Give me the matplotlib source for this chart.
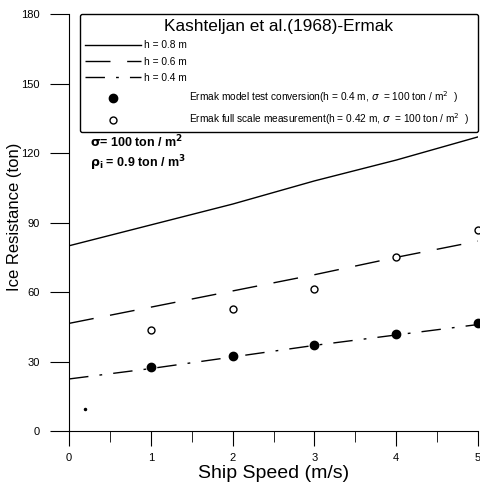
import matplotlib
matplotlib.use("Agg")
import matplotlib.pyplot as plt
from matplotlib.ticker import MultipleLocator

plt.rcParams['font.family'] = ['Liberation Sans', 'DejaVu Sans']

speed = [0, 1, 2, 3, 4, 5]
h08 = [80, 89, 98, 108, 117, 127]
h06 = [46.5, 53.5, 60.5, 67.5, 75, 82]
h04 = [22.5, 27, 32, 37, 41.5, 46]

model_x = [1, 2, 3, 4, 5]
model_y = [27.5, 32.5, 37, 42, 46.5]
full_x = [1, 2, 3, 4, 5]
full_y = [43.5, 52.5, 61.5, 75, 87]
small_x = [0.2]
small_y = [9.7]

fig = plt.figure(figsize=(4.8, 4.86), dpi=100)
ax = fig.add_axes([0.144, 0.113, 0.852, 0.858])

l1, = ax.plot(speed, h08, color='black', lw=1.0, label='h = 0.8 m')
l2, = ax.plot(speed, h06, color='black', lw=1.0, dashes=(18, 12), label='h = 0.6 m')
l3, = ax.plot(speed, h04, color='black', lw=1.0, dashes=(14, 8, 2, 8), label='h = 0.4 m')
pad = ' ' * 16
p1, = ax.plot(model_x, model_y, 'o', color='black', ms=6, clip_on=False,
              label=pad + 'Ermak model test conversion(h = 0.4 m, $\\sigma$  = 100 ton / m$^2$  )')
p2, = ax.plot(full_x, full_y, 'o', mfc='white', mec='black', mew=1.0, ms=5, clip_on=False,
              label=pad + 'Ermak full scale measurement(h = 0.42 m, $\\sigma$  = 100 ton / m$^2$  )')
ax.plot(small_x, small_y, 'o', color='black', ms=1.5)

ax.set_xlim(0, 5)
ax.set_ylim(0, 180)
ax.xaxis.set_major_locator(MultipleLocator(1))
ax.xaxis.set_minor_locator(MultipleLocator(0.5))
ax.yaxis.set_major_locator(MultipleLocator(30))
ax.spines['top'].set_visible(False)
ax.spines['right'].set_visible(False)
ax.tick_params(axis='x', which='major', direction='out', length=11, labelsize=8, pad=5)
ax.tick_params(axis='x', which='minor', direction='out', length=8)
ax.tick_params(axis='y', which='major', direction='out', length=14, labelsize=8, pad=7)

ax.set_xlabel('Ship Speed (m/s)', fontsize=14, labelpad=1)
ax.set_ylabel('Ice Resistance (ton)', fontsize=12)
ax.yaxis.set_label_coords(-0.114, 0.515)

leg = ax.legend(handles=[l1, l2, l3, p1, p2], title='Kashteljan et al.(1968)-Ermak',
                loc='upper left', bbox_to_anchor=(0.026, 0.0, 0.974, 1.0), mode='expand',
                fontsize=7.3, title_fontsize=12.4, handlelength=5.5, handletextpad=0.3,
                labelspacing=0.62, borderpad=0.5, borderaxespad=0.0, fancybox=True,
                frameon=True, edgecolor='black', framealpha=1)
leg.get_frame().set_linewidth(1.0)

ax.text(0.26, 125, '$\\mathbf{\\sigma}$= 100 ton / m$^\\mathbf{2}$', fontsize=9,
        fontweight='bold', va='center')
ax.text(0.26, 115.5, '$\\mathbf{\\rho_i}$ = 0.9 ton / m$^\\mathbf{3}$', fontsize=9,
        fontweight='bold', va='center')

fig.savefig('out.png', dpi=100)
